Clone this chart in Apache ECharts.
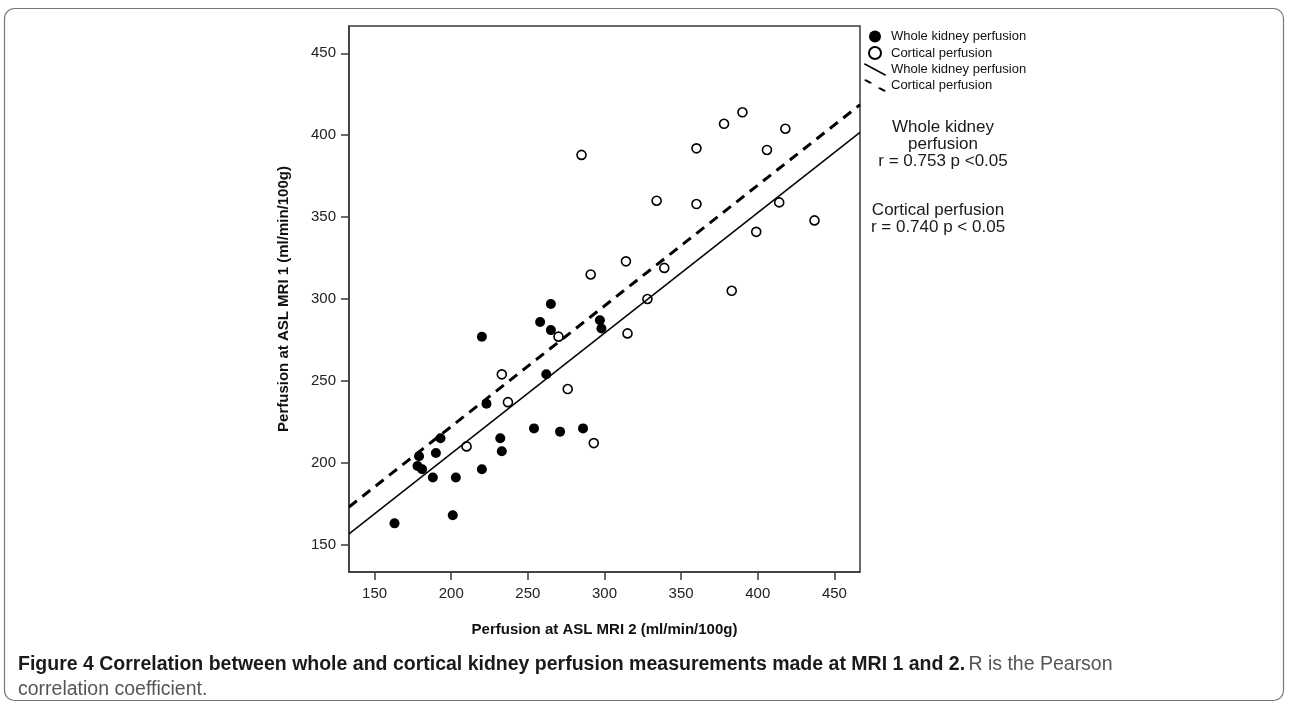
<!DOCTYPE html>
<html>
<head>
<meta charset="utf-8">
<title>Figure 4</title>
<script src="https://cdn.jsdelivr.net/npm/echarts@6/dist/echarts.min.js"></script>
<style>
  html, body { margin: 0; padding: 0; background: #fff; }
  #chart { width: 1289px; height: 708px; }
</style>
</head>
<body>
<div id="chart"></div>
<script>
// tick values shared by both axes
const axisTicks = [150, 200, 250, 300, 350, 400, 450];

// whole kidney perfusion (filled dots): MRI 2 -> x, MRI 1 -> y
const wholeX = [265, 258, 265, 220, 262, 223, 254, 271, 286, 193, 232, 233, 179, 190, 178, 181, 188, 203, 220, 201, 163, 297, 298];
const wholeY = [297, 286, 281, 277, 254, 236, 221, 219, 221, 215, 215, 207, 204, 206, 198, 196, 191, 191, 196, 168, 163, 287, 282];

// cortical perfusion (open dots)
const corticalX = [285, 390, 378, 418, 360, 406, 334, 360, 414, 437, 399, 314, 291, 339, 328, 383, 315, 270, 233, 276, 237, 293, 210];
const corticalY = [388, 414, 407, 404, 392, 391, 360, 358, 359, 348, 341, 323, 315, 319, 300, 305, 279, 277, 254, 245, 237, 212, 210];

// fitted lines, ends at the axis limits
const fitX = [133.3, 466.7];
const wholeFitY = [156.6, 401.7];
const corticalFitY = [173.0, 418.6];

const legendLabels = {
  'Whole kidney perfusion': 'Whole kidney perfusion',
  'Cortical perfusion': 'Cortical perfusion',
  'Whole kidney fit': 'Whole kidney perfusion',
  'Cortical fit': 'Cortical perfusion'
};

const font = "'Liberation Sans', Arial, sans-serif";
const capFont = "'Liberation Sans Narrow', 'Liberation Sans', sans-serif";

const zip = (xs, ys) => xs.map((x, i) => [x, ys[i]]);

const solidIcon = 'path://M0,0L1.6,0L22,11.1L22,12L20.4,12L0,0.9Z';
const dashIcon = 'path://M0,0L2,0L7,2.8L7,4L5,4L0,1.2Z M14,8L16,8L21,10.8L21,12L19,12L14,9.2Z';

const chart = echarts.init(document.getElementById('chart'));

const axisCommon = {
  type: 'value',
  min: 133.3,
  max: 466.7,
  axisLine: { show: true, onZero: false, lineStyle: { color: '#3a3a3a', width: 1.5 } },
  axisTick: { show: true, length: 8, customValues: axisTicks, lineStyle: { color: '#3a3a3a', width: 1.5 } },
  splitLine: { show: false },
  nameLocation: 'middle',
  nameTextStyle: { fontWeight: 'bold', fontSize: 15, color: '#111', fontFamily: font }
};

chart.setOption({
  animation: false,
  backgroundColor: '#fff',
  grid: {
    left: 349, top: 26, right: 429, bottom: 136,
    outerBoundsMode: 'none',
    show: true, borderColor: '#3a3a3a', borderWidth: 1.5
  },
  xAxis: Object.assign({}, axisCommon, {
    name: 'Perfusion at ASL MRI 2 (ml/min/100g)',
    nameGap: 50,
    axisLabel: { customValues: axisTicks, margin: 14, fontSize: 15, color: '#222', fontFamily: font }
  }),
  yAxis: Object.assign({}, axisCommon, {
    name: 'Perfusion at ASL MRI 1 (ml/min/100g)',
    nameGap: 58,
    axisLabel: { customValues: axisTicks, margin: 13, fontSize: 15, color: '#222', fontFamily: font }
  }),
  legend: {
    orient: 'vertical',
    left: 859,
    top: 25,
    itemWidth: 22,
    itemHeight: 12,
    itemGap: 3,
    selectedMode: false,
    textStyle: { fontSize: 13, color: '#111', fontFamily: font },
    formatter: name => legendLabels[name],
    data: [
      { name: 'Whole kidney perfusion', icon: 'circle' },
      { name: 'Cortical perfusion', icon: 'circle' },
      { name: 'Whole kidney fit', icon: solidIcon },
      { name: 'Cortical fit', icon: dashIcon }
    ]
  },
  series: [
    {
      name: 'Whole kidney perfusion',
      type: 'scatter',
      symbolSize: 10,
      data: zip(wholeX, wholeY),
      itemStyle: { color: '#000', opacity: 1 },
      emphasis: { disabled: true },
      z: 2
    },
    {
      name: 'Cortical perfusion',
      type: 'scatter',
      symbolSize: 9,
      data: zip(corticalX, corticalY),
      itemStyle: { color: '#fff', borderColor: '#000', borderWidth: 1.6, opacity: 1 },
      emphasis: { disabled: true },
      z: 3
    },
    {
      name: 'Whole kidney fit',
      type: 'line',
      symbol: 'none',
      data: zip(fitX, wholeFitY),
      lineStyle: { color: '#000', width: 1.5 },
      itemStyle: { color: '#000', borderWidth: 0 },
      silent: true,
      z: 4
    },
    {
      name: 'Cortical fit',
      type: 'line',
      symbol: 'none',
      data: zip(fitX, corticalFitY),
      lineStyle: { color: '#000', width: 3, type: [10, 7] },
      itemStyle: { color: '#000', borderWidth: 0 },
      silent: true,
      z: 4
    }
  ],
  graphic: [
    {
      type: 'rect',
      shape: { x: 4.5, y: 8.5, width: 1279, height: 692, r: 10 },
      style: { fill: 'none', stroke: '#777', lineWidth: 1.2 },
      silent: true
    },
    {
      type: 'text',
      x: 943, y: 119,
      style: {
        text: 'Whole kidney\nperfusion\nr = 0.753 p <0.05',
        align: 'center', fontSize: 17, lineHeight: 17, fontFamily: font, fill: '#1a1a1a'
      }
    },
    {
      type: 'text',
      x: 938, y: 202,
      style: {
        text: 'Cortical perfusion\nr = 0.740 p < 0.05',
        align: 'center', fontSize: 17, lineHeight: 17, fontFamily: font, fill: '#1a1a1a'
      }
    },
    {
      type: 'text',
      x: 18, y: 652,
      style: {
        text: '{b|Figure 4 Correlation between whole and cortical kidney perfusion measurements made at MRI 1 and 2.} {r|R is the Pearson}\n{r|correlation coefficient.}',
        rich: {
          b: { fontWeight: 'bold', fontSize: 19.5, lineHeight: 25, fontFamily: capFont, fill: '#1a1a1a' },
          r: { fontSize: 19.5, lineHeight: 25, fontFamily: capFont, fill: '#555' }
        }
      }
    }
  ]
});
</script>
</body>
</html>
